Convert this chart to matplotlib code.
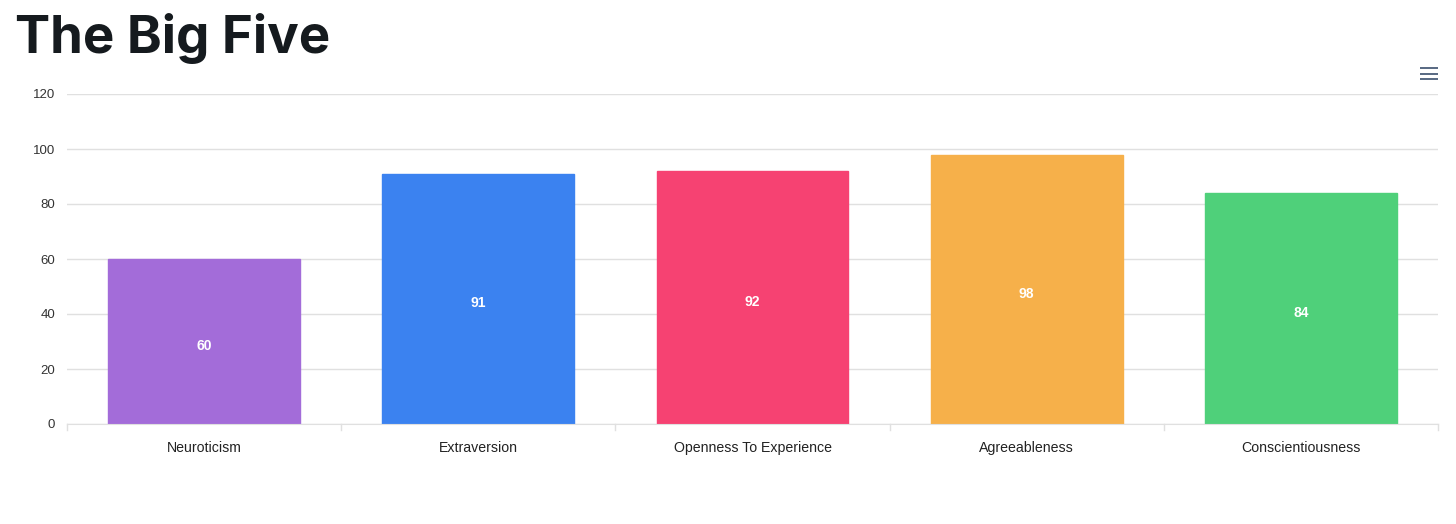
import matplotlib
matplotlib.use("Agg")
import matplotlib.pyplot as plt
from matplotlib.lines import Line2D

categories = ["Neuroticism", "Extraversion", "Openness To Experience", "Agreeableness", "Conscientiousness"]
values = [60, 91, 92, 98, 84]
colors = ["#a36cd9", "#3b82f0", "#f64272", "#f6b04a", "#4fd07a"]
yticks = [0, 20, 40, 60, 80, 100, 120]

plt.rcParams['font.family'] = ['Liberation Sans', 'DejaVu Sans']

W, H = 1456, 524
fig = plt.figure(figsize=(W / 100, H / 100), dpi=100)
ax = fig.add_axes([67 / W, (H - 424) / H, (1438 - 67) / W, (424 - 94) / H])

x = list(range(len(categories)))
ax.bar(x, values, width=0.7, color=colors, edgecolor=colors, linewidth=1, zorder=3)
for xi, v in zip(x, values):
    ax.text(xi, v / 2 - 1.6, str(v), ha="center", va="center", color="white",
            fontsize=10, fontweight="bold", zorder=4)

ax.set_xlim(-0.5, len(categories) - 0.5)
ax.set_ylim(0, 120)
ax.set_yticks(yticks)
ax.set_yticklabels([str(t) for t in yticks], fontsize=9.5, color="#333333")
ax.yaxis.grid(True, color="#e0e0e0", linewidth=1, zorder=0)
ax.tick_params(axis="y", length=0, pad=8.5)

ax.set_xticks(x)
ax.set_xticklabels(categories, fontsize=10.2, color="#222222")
ax.tick_params(axis="x", length=0, pad=12)
for b in [i - 0.5 for i in range(len(categories) + 1)]:
    ax.plot([b, b], [0, -2.2], color="#e0e0e0", linewidth=1, clip_on=False, zorder=2)

for s in ["top", "right", "left"]:
    ax.spines[s].set_visible(False)
ax.spines["bottom"].set_color("#e0e0e0")
ax.spines["bottom"].set_zorder(5)

fig.text(15 / W, 1 - 53 / H, "The Big Five", fontsize=38, fontweight="bold",
         color="#151a1e", ha="left", va="baseline", family=["Inter", "DejaVu Sans"])

# hamburger menu icon
for yy in [68, 73.5, 79]:
    fig.add_artist(Line2D([1420 / W, 1438 / W], [1 - yy / H, 1 - yy / H],
                          color="#4a5d78", linewidth=1.3, solid_capstyle="butt"))

fig.savefig("out.png", dpi=100)
